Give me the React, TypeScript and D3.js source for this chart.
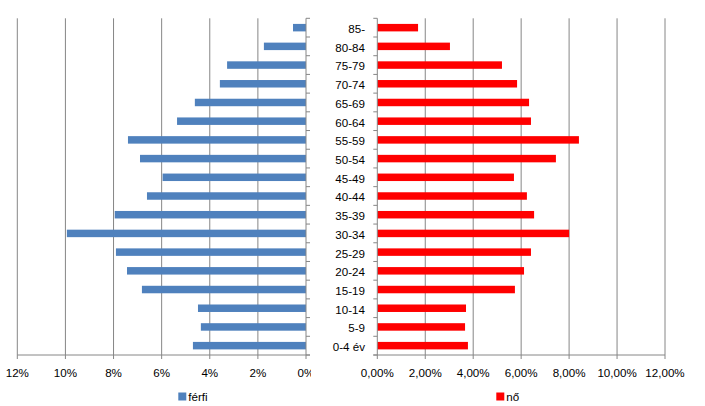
import React from "react";
import * as d3 from "d3";

const categories = ["85-", "80-84", "75-79", "70-74", "65-69", "60-64", "55-59", "50-54", "45-49", "40-44", "35-39", "30-34", "25-29", "20-24", "15-19", "10-14", "5-9", "0-4 év"];
const male = [0.54, 1.75, 3.28, 3.58, 4.62, 5.36, 7.4, 6.9, 5.96, 6.61, 7.95, 9.94, 7.9, 7.44, 6.82, 4.49, 4.37, 4.7];
const female = [1.7, 3.03, 5.2, 5.83, 6.33, 6.41, 8.41, 7.45, 5.7, 6.24, 6.54, 8.0, 6.41, 6.12, 5.74, 3.7, 3.66, 3.78];
const leftTicks = [0, 2, 4, 6, 8, 10, 12];
const rightTicks = [0, 2, 4, 6, 8, 10, 12];
const maleName = "férfi";
const femaleName = "nő";

const W = 705;
const H = 406;
const top = 18.3;
const bottom = 355;
const font = "'Liberation Sans', Arial, sans-serif";
const grid = "#868686";

export default function App() {
  const y = d3.scaleBand<string>().domain(categories).range([top, bottom]).paddingInner(0.6).paddingOuter(0.3);
  const xL = d3.scaleLinear().domain([0, 12]).range([306, 17.3]);
  const xR = d3.scaleLinear().domain([0, 12]).range([377.3, 665]);
  const step = y.step();
  const boundaries = d3.range(categories.length + 1).map((i) => top + i * step);
  const fmtL = (v: number) => `${v}%`;
  const fmtR = (v: number) => `${v.toFixed(2).replace(".", ",")}%`;

  return (
    <svg width={W} height={H} style={{ position: "absolute", left: 0, top: 0, background: "#fff" }} fontFamily={font}>
      <defs>
        <clipPath id="clipL">
          <rect x={0} y={0} width={311} height={H} />
        </clipPath>
      </defs>
      {/* left gridlines */}
      {leftTicks.filter((t) => t > 0).map((t) => (
        <line key={"gl" + t} x1={xL(t)} x2={xL(t)} y1={top} y2={bottom + 4} stroke={grid} strokeWidth={1} />
      ))}
      {/* right gridlines */}
      {rightTicks.filter((t) => t > 0).map((t) => (
        <line key={"gr" + t} x1={xR(t)} x2={xR(t)} y1={top} y2={bottom + 4} stroke={grid} strokeWidth={1} />
      ))}
      {/* bars */}
      {categories.map((c, i) => (
        <rect key={"m" + c} x={xL(male[i])} y={y(c)} width={xL(0) - xL(male[i])} height={y.bandwidth()} fill="#4F81BD" />
      ))}
      {categories.map((c, i) => (
        <rect key={"f" + c} x={xR(0)} y={y(c)} width={xR(female[i]) - xR(0)} height={y.bandwidth()} fill="#FF0000" />
      ))}
      {/* left axes */}
      <line x1={xL(0)} x2={xL(0)} y1={top} y2={bottom + 4} stroke={grid} />
      <line x1={xL(12)} x2={xL(0) + 4} y1={bottom} y2={bottom} stroke={grid} />
      {boundaries.map((b, i) => (
        <line key={"tl" + i} x1={xL(0)} x2={xL(0) + 4} y1={b} y2={b} stroke={grid} />
      ))}
      {/* right axes */}
      <line x1={xR(0)} x2={xR(0)} y1={top} y2={bottom + 4} stroke={grid} />
      <line x1={xR(0) - 4} x2={xR(12)} y1={bottom} y2={bottom} stroke={grid} />
      {boundaries.map((b, i) => (
        <line key={"tr" + i} x1={xR(0) - 4} x2={xR(0)} y1={b} y2={b} stroke={grid} />
      ))}
      {/* category labels */}
      {categories.map((c) => (
        <text key={"c" + c} x={365} y={(y(c) as number) + y.bandwidth() / 2 + 5.4} textAnchor="end" fontSize={11.6} fill="#000">
          {c}
        </text>
      ))}
      {/* tick labels */}
      <g clipPath="url(#clipL)">
        {leftTicks.map((t) => (
          <text key={"xl" + t} x={xL(t)} y={377.3} textAnchor="middle" fontSize={11.6} fill="#000">
            {fmtL(t)}
          </text>
        ))}
      </g>
      {rightTicks.map((t) => (
        <text key={"xr" + t} x={xR(t)} y={377.3} textAnchor="middle" fontSize={11.6} fill="#000">
          {fmtR(t)}
        </text>
      ))}
      {/* legends */}
      <rect x={178.3} y={392.5} width={8} height={8} fill="#4F81BD" />
      <text x={188.3} y={400.8} fontSize={11.6} fill="#000">{maleName}</text>
      <rect x={496.3} y={392.5} width={8} height={8} fill="#FF0000" />
      <text x={506.3} y={400.8} fontSize={11.6} fill="#000">{femaleName}</text>
    </svg>
  );
}
